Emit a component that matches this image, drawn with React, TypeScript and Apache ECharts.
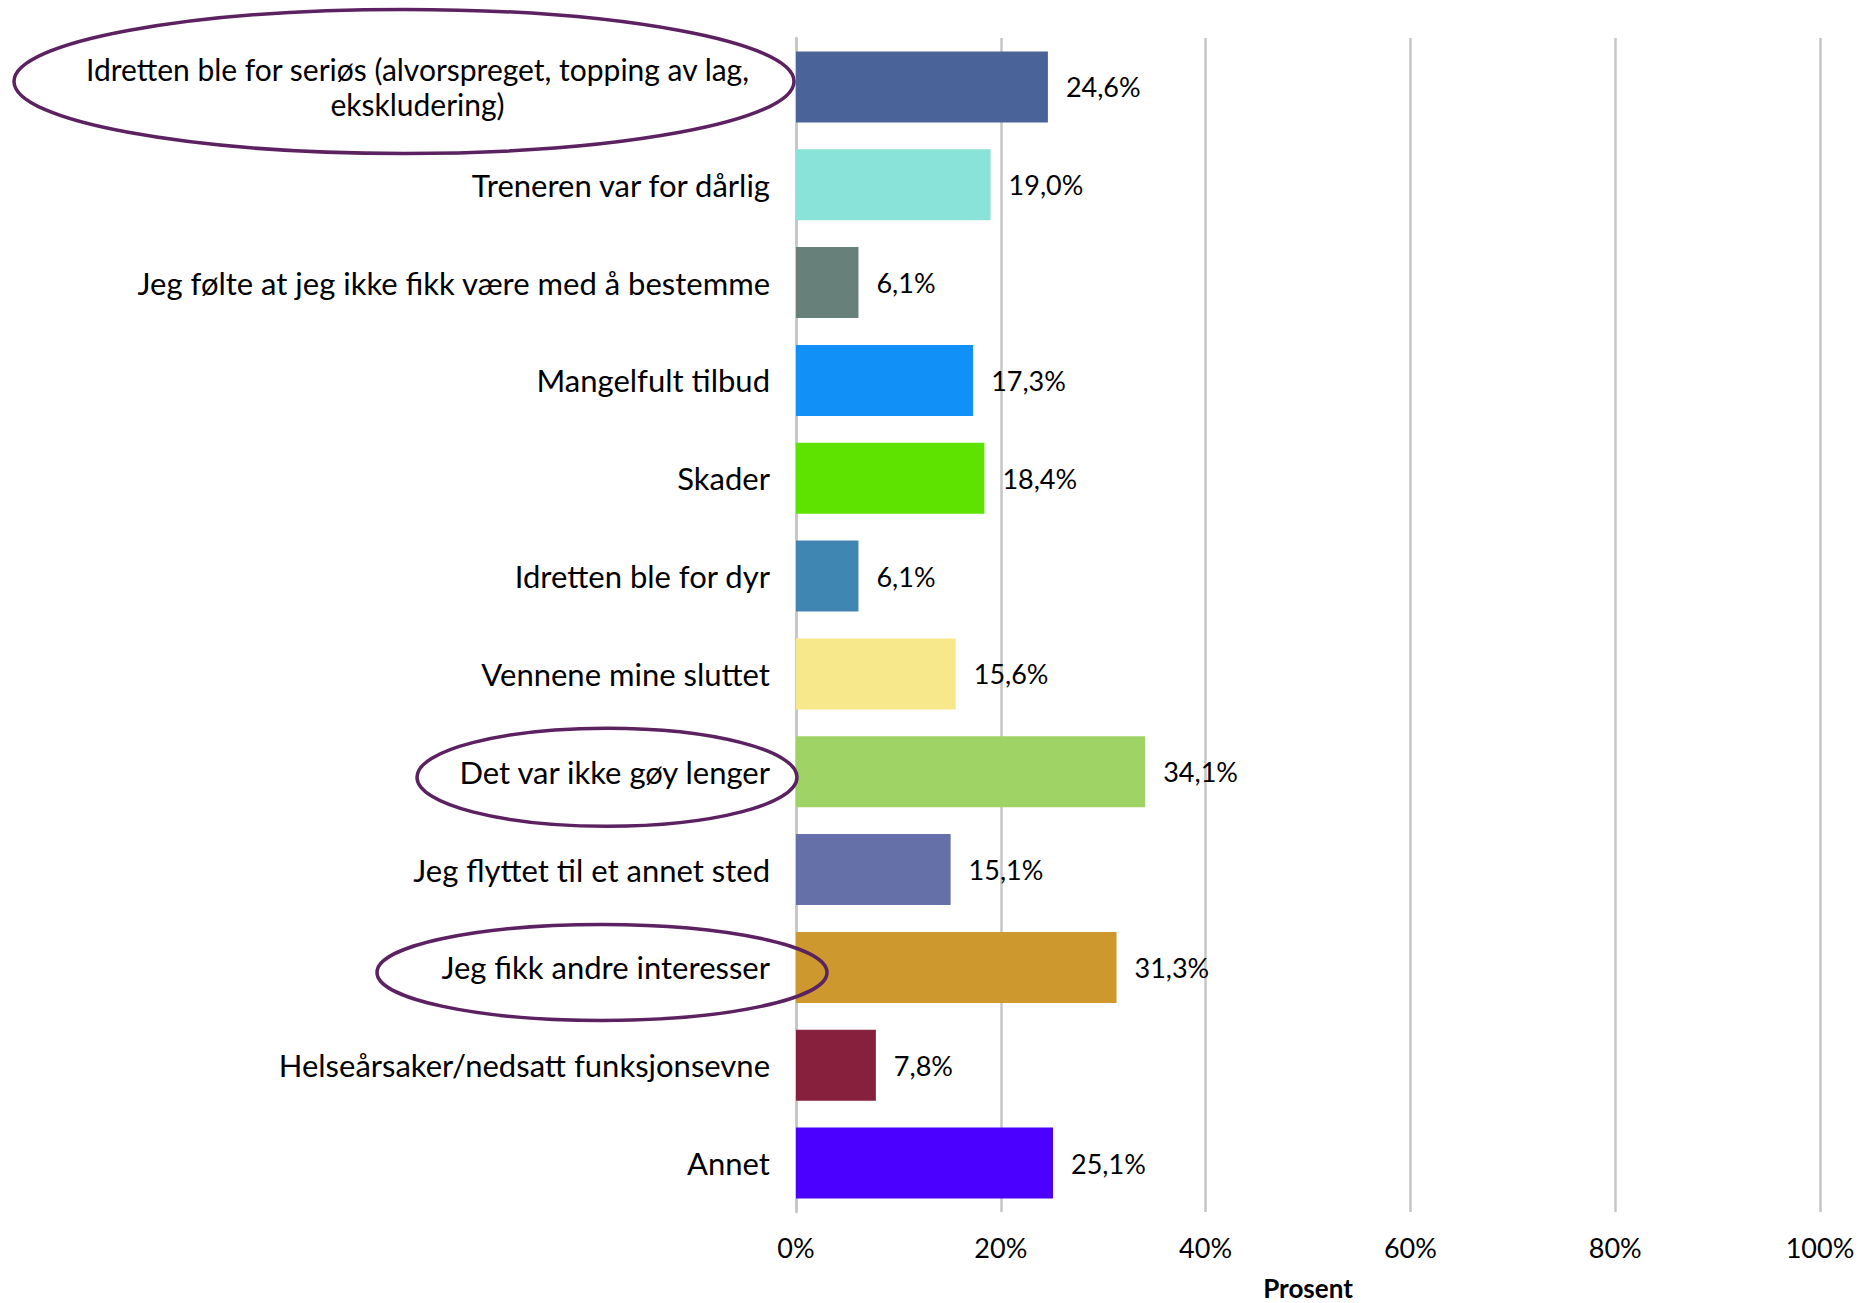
import React, { useEffect, useRef } from "react";
import * as echarts from "echarts";

const categories = [
  "Idretten ble for seriøs (alvorspreget, topping av lag,\nekskludering)",
  "Treneren var for dårlig",
  "Jeg følte at jeg ikke fikk være med å bestemme",
  "Mangelfult tilbud",
  "Skader",
  "Idretten ble for dyr",
  "Vennene mine sluttet",
  "Det var ikke gøy lenger",
  "Jeg flyttet til et annet sted",
  "Jeg fikk andre interesser",
  "Helseårsaker/nedsatt funksjonsevne",
  "Annet",
];
const values = [24.6, 19.0, 6.1, 17.3, 18.4, 6.1, 15.6, 34.1, 15.1, 31.3, 7.8, 25.1];
const barColors = [
  "#4a6399", "#8ae3d8", "#68807a", "#1191f8", "#5ee300", "#4086b3",
  "#f8e88c", "#a0d366", "#6670a8", "#cd982e", "#86203c", "#4b00ff",
];
const xTicks = { min: 0, max: 100, interval: 20 };
const highlighted = [0, 7, 9];

const FONT = "Lato";

export default function App() {
  const ref = useRef<HTMLDivElement>(null);
  useEffect(() => {
    if (!ref.current) return;
    const chart = echarts.init(ref.current, null, { renderer: "svg" });
    const option: any = {
      animation: false,
      backgroundColor: "#ffffff",
      grid: {
        left: 796,
        right: 40,
        top: 38,
        bottom: 91,
        containLabel: false,
        outerBoundsMode: "none",
      },
      xAxis: {
        type: "value",
        min: xTicks.min,
        max: xTicks.max,
        interval: xTicks.interval,
        axisLine: { show: false },
        axisTick: { show: false },
        splitLine: { show: true, lineStyle: { color: "#c6c6c6", width: 2.5 } },
        axisLabel: {
          formatter: "{value}%",
          fontSize: 27,
          fontFamily: FONT,
          color: "#000",
          margin: 22,
        },
        name: "Prosent",
        nameLocation: "middle",
        nameGap: 63,
        nameTextStyle: { fontSize: 26, fontWeight: "bold", fontFamily: FONT, color: "#000" },
      },
      yAxis: {
        type: "category",
        inverse: true,
        data: categories,
        axisLine: { show: true, lineStyle: { color: "#c6c6c6", width: 2.5 } },
        axisTick: { show: false },
        axisLabel: {
          fontSize: 31,
          fontFamily: FONT,
          color: "#000",
          margin: 26,
          lineHeight: 35,
          align: "right",
          formatter: (v: string) =>
            v.indexOf("\n") >= 0
              ? v
                  .split("\n")
                  .map((line) => "{c|" + line + "}")
                  .join("\n")
              : v,
          rich: {
            c: {
              width: 705,
              align: "center",
              fontSize: 30,
              fontFamily: FONT,
              color: "#000",
              lineHeight: 35,
            },
          },
        },
      },
      series: [
        {
          type: "bar",
          data: values.map((v, i) => ({ value: v, itemStyle: { color: barColors[i] } })),
          barCategoryGap: "27.5%",
          label: {
            show: true,
            position: "right",
            distance: 18,
            fontSize: 27,
            fontFamily: FONT,
            color: "#000",
            formatter: (p: any) => p.value.toFixed(1).replace(".", ",") + "%",
          },
        },
      ],
    };
    chart.setOption(option);

    const ellipseSpecs = [
      { idx: highlighted[0], cx: 404, dy: -5.5, rx: 390, ry: 72 },
      { idx: highlighted[1], cx: 607, dy: 5.5, rx: 190, ry: 49 },
      { idx: highlighted[2], cx: 602, dy: 5, rx: 225, ry: 48 },
    ];
    const graphics = ellipseSpecs.map((s) => {
      const cy = chart.convertToPixel({ yAxisIndex: 0 }, categories[s.idx]) as number;
      return {
        type: "ellipse",
        shape: { cx: s.cx, cy: cy + s.dy, rx: s.rx, ry: s.ry },
        style: { fill: "none", stroke: "#5b2160", lineWidth: 3.5 },
        z: 100,
      };
    });
    chart.setOption({ graphic: graphics });

    return () => chart.dispose();
  }, []);
  return (
    <div
      ref={ref}
      style={{ position: "absolute", left: 0, top: 0, width: 1860, height: 1303 }}
    />
  );
}
